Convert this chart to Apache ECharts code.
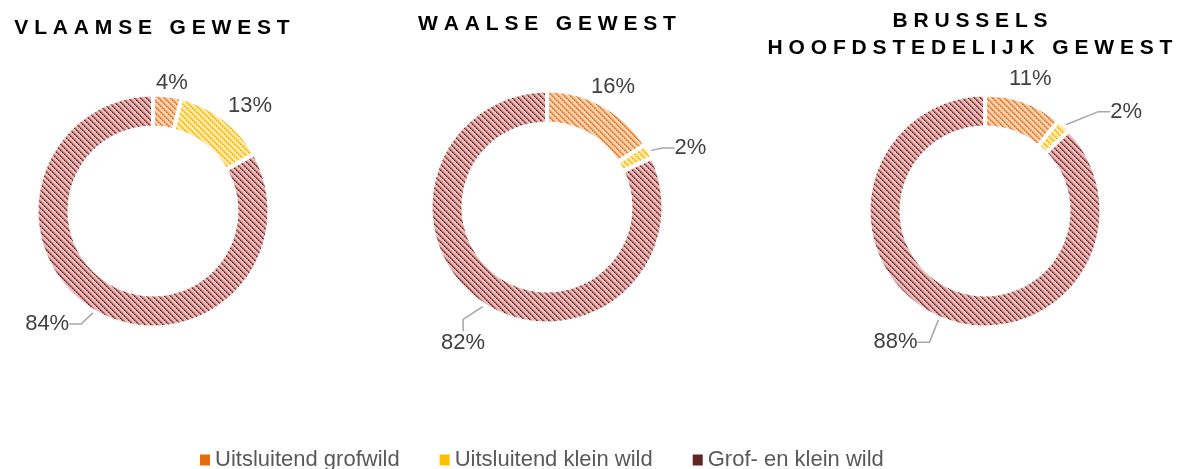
<!DOCTYPE html>
<html>
<head>
<meta charset="utf-8">
<script src="https://cdn.jsdelivr.net/npm/echarts@6/dist/echarts.min.js"></script>
<style>
    html, body {margin: 0; padding: 0; background: #fff;}
    #chart {width: 1188px; height: 469px;}
</style>
</head>
<body>
<div id="chart"></div>
<script>
    // data
    const categories = ['Uitsluitend grofwild', 'Uitsluitend klein wild', 'Grof- en klein wild'];
    const regionTitles = ['VLAAMSE GEWEST', 'WAALSE GEWEST', 'BRUSSELS\nHOOFDSTEDELIJK GEWEST'];
    const vlaamsValues = [4, 13, 84];
    const waalsValues = [16, 2, 82];
    const brusselsValues = [11, 2, 88];

    // which slices have no visible leader line
    const hiddenLines = [[0, 1], [0], [0]];
    // label nudges from the default outside spot [dx, dy]
    const labelShift = [
        [[-30, -1], [-20, -3], [-2, 2]],
        [[-35, -7], [-2, 3], [24, 27]],
        [[-36, -11], [21, -5], [0, 13]]
    ];

    const legendColors = ['#E46C0A', '#FFC000', '#632523'];
    const font = 'Liberation Sans, Arial, sans-serif';

    // hatched fill like the excel pattern
    function hatch(base, light, mid, dark) {
        const n = 12;
        const c = document.createElement('canvas');
        c.width = n;
        c.height = n;
        const ctx = c.getContext('2d');
        ctx.fillStyle = base;
        ctx.fillRect(0, 0, n, n);
        for (let y = 0; y < n; y++) {
            for (let x = 0; x < n; x++) {
                const d = (x - y + n) % 6;
                let col = null;
                if (d === 0) col = x % 2 === 0 ? dark : mid;
                else if (d === 1) col = mid;
                else if (d === 2) col = light;
                if (col) {
                    ctx.fillStyle = col;
                    ctx.fillRect(x, y, 1, 1);
                }
            }
        }
        return {image: c, repeat: 'repeat'};
    }

    const patterns = [
        hatch('#FAD3B4', '#F5B482', '#EE9650', '#E06A10'),
        hatch('#FFEBAE', '#FFDA70', '#FFCB38', '#F0AE00'),
        hatch('#E8BDBC', '#CF9392', '#A85E5C', '#65201E')
    ];

    function spaced(s) {
        return s.split('\n').map(line =>
            line.split(' ').map(w => w.split('').join(' ')).join('   ')
        ).join('\n');
    }

    function pieSeries(values, center, idx) {
        return {
            type: 'pie',
            center: center,
            radius: [83.5, 116.5],
            startAngle: 90,
            clockwise: true,
            avoidLabelOverlap: false,
            itemStyle: {borderColor: '#fff', borderWidth: 4},
            label: {
                show: true,
                position: 'outside',
                formatter: '{c}%',
                fontSize: 22,
                color: '#404040',
                fontFamily: font
            },
            labelLine: {
                show: true,
                length: 12,
                length2: 12,
                lineStyle: {color: '#A6A6A6', width: 1.5}
            },
            labelLayout: function (params) {
                const s = labelShift[idx][params.dataIndex];
                const r = params.labelRect;
                return {
                    x: r.x + r.width / 2 + s[0],
                    y: r.y + r.height / 2 + s[1],
                    align: 'center',
                    verticalAlign: 'middle'
                };
            },
            emphasis: {disabled: true},
            data: values.map((v, i) => ({
                name: categories[i],
                value: v,
                itemStyle: {color: patterns[i]},
                labelLine: {show: hiddenLines[idx].indexOf(i) < 0}
            }))
        };
    }

    const chartDom = document.getElementById('chart');
    const myChart = echarts.init(chartDom);

    const titleStyle = {
        fill: '#000',
        font: 'bold 21px ' + font,
        align: 'center',
        verticalAlign: 'top',
        lineHeight: 27
    };

    let option = {
        animation: false,
        graphic: [
            {type: 'text', x: 152, y: 15, style: Object.assign({text: spaced(regionTitles[0])}, titleStyle)},
            {type: 'text', x: 547, y: 11, style: Object.assign({text: spaced(regionTitles[1])}, titleStyle)},
            {type: 'text', x: 970, y: 8, style: Object.assign({text: spaced(regionTitles[2])}, titleStyle)}
        ],
        legend: {
            left: 195,
            top: 444,
            icon: 'rect',
            itemWidth: 10,
            itemHeight: 11,
            itemGap: 40,
            itemStyle: {borderWidth: 0},
            textStyle: {fontSize: 22, color: '#595959', fontFamily: font},
            data: categories.map((c, i) => ({name: c, itemStyle: {color: legendColors[i], borderWidth: 0}}))
        },
        series: [
            pieSeries(vlaamsValues, [153, 211], 0),
            pieSeries(waalsValues, [547, 207], 1),
            pieSeries(brusselsValues, [985, 211], 2)
        ]
    };

    window.addEventListener('resize', () => {
        myChart.resize()
    })
    option && myChart.setOption(option);
</script>
</body>
</html>
